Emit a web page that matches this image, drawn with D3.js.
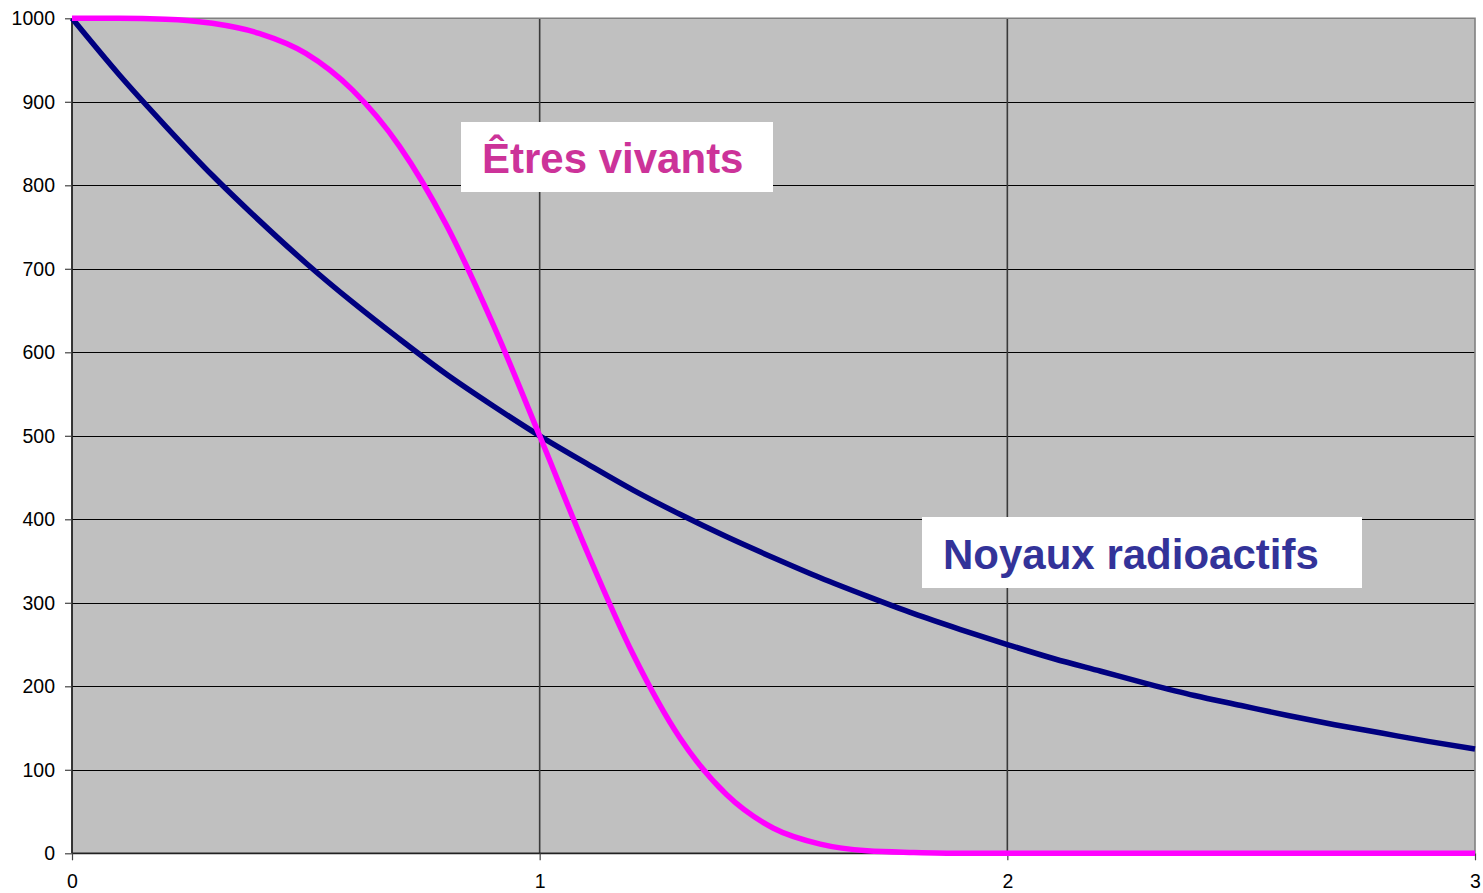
<!DOCTYPE html>
<html>
<head>
<meta charset="utf-8">
<script src="https://cdn.jsdelivr.net/npm/d3@7"></script>
<style>
  body { margin: 0; background: #fff; }
  svg text { font-family: "Liberation Sans", Arial, sans-serif; }
</style>
</head>
<body>
<svg id="chart" width="1483" height="893"></svg>
<script>
// time in half-lives, 0 .. 3 by 0.1
var temps = [0, 0.1, 0.2, 0.3, 0.4, 0.5, 0.6, 0.7, 0.8, 0.9, 1.0,
             1.1, 1.2, 1.3, 1.4, 1.5, 1.6, 1.7, 1.8, 1.9, 2.0,
             2.1, 2.2, 2.3, 2.4, 2.5, 2.6, 2.7, 2.8, 2.9, 3.0];
// radioactive nuclei (navy curve)
var noyaux = [1000, 933, 871, 812, 758, 707, 660, 616, 574, 536, 500,
              467, 435, 406, 379, 354, 330, 308, 287, 268, 250,
              233, 218, 203, 189, 177, 165, 154, 144, 134, 125];
// living beings (magenta curve)
var vivants = [1000, 1000, 999, 994, 982, 958, 914, 847, 753, 634, 500,
               363, 238, 138, 70, 30, 11, 3, 1, 0, 0,
               0, 0, 0, 0, 0, 0, 0, 0, 0, 0];
var xTicks = [0, 1, 2, 3];
var yTicks = [0, 100, 200, 300, 400, 500, 600, 700, 800, 900, 1000];

var svg = d3.select("#chart");
// plot area (window.top is reserved, so no "top" here)
var pLeft = 72, pRight = 1475, pTop = 18.3, pBottom = 853.3;

var x = d3.scaleLinear().domain([0, 3]).range([pLeft, pRight]);
var y = d3.scaleLinear().domain([0, 1000]).range([pBottom, pTop]);

// plot background
svg.append("rect")
    .attr("x", pLeft).attr("y", pTop)
    .attr("width", pRight - pLeft).attr("height", pBottom - pTop)
    .attr("fill", "#c0c0c0");

// horizontal grid
svg.append("g").selectAll("line")
    .data(yTicks.filter(function (d) { return d > 0 && d < 1000; }))
    .enter().append("line")
    .attr("x1", pLeft).attr("x2", pRight)
    .attr("y1", function (d) { return Math.round(y(d)) + 0.5; })
    .attr("y2", function (d) { return Math.round(y(d)) + 0.5; })
    .attr("stroke", "#000").attr("stroke-width", 1);

// vertical grid
svg.append("g").selectAll("line")
    .data(xTicks.filter(function (d) { return d > 0 && d < 3; }))
    .enter().append("line")
    .attr("x1", function (d) { return x(d); })
    .attr("x2", function (d) { return x(d); })
    .attr("y1", pTop).attr("y2", pBottom)
    .attr("stroke", "#3a3a3a").attr("stroke-width", 1.6);

// frame: top and right gray
svg.append("path")
    .attr("d", "M" + pLeft + "," + pTop + "H" + pRight + "V" + pBottom)
    .attr("fill", "none").attr("stroke", "#808080").attr("stroke-width", 1.6);

// axes
var yAxis = d3.axisLeft(y).tickValues(yTicks).tickSize(7).tickPadding(10)
    .tickFormat(d3.format("d"));
var xAxis = d3.axisBottom(x).tickValues(xTicks).tickSize(7).tickPadding(14)
    .tickFormat(d3.format("d"));

var gy = svg.append("g").attr("transform", "translate(" + pLeft + ",0)").call(yAxis);
var gx = svg.append("g").attr("transform", "translate(0," + pBottom + ")").call(xAxis);

[gy, gx].forEach(function (g) {
    g.attr("font-size", null);
    g.select(".domain").attr("stroke", "#222").attr("stroke-width", 1.8);
    g.selectAll(".tick line").attr("stroke", "#444").attr("stroke-width", 1.2);
    g.selectAll(".tick text")
        .attr("fill", "#000")
        .style("font-size", "19.5px")
        .style("font-family", "'Liberation Sans', Arial, sans-serif");
});
gx.select(".domain").attr("d", "M" + pLeft + ",0H" + pRight);
gy.select(".domain").attr("d", "M0," + pBottom + "V" + pTop);

// curves (smoothed like the spreadsheet lines)
var line = d3.line()
    .curve(d3.curveMonotoneX)
    .x(function (d) { return x(d[0]); })
    .y(function (d) { return y(d[1]); });

svg.append("path")
    .datum(d3.zip(temps, noyaux))
    .attr("d", line)
    .attr("fill", "none")
    .attr("stroke", "#000080")
    .attr("stroke-width", 5.5)
    .attr("stroke-linejoin", "round");

svg.append("path")
    .datum(d3.zip(temps, vivants))
    .attr("d", line)
    .attr("fill", "none")
    .attr("stroke", "#ff00ff")
    .attr("stroke-width", 5.5)
    .attr("stroke-linejoin", "round");

// labels in white boxes
var labels = [
    {t: "Êtres vivants", c: "#cc3399", bx: 461, by: 122, bw: 312, bh: 70, tx: 482, ty: 173},
    {t: "Noyaux radioactifs", c: "#333399", bx: 922, by: 517, bw: 440, bh: 71, tx: 943, ty: 569}
];
var lg = svg.append("g").selectAll("g").data(labels).enter().append("g");
lg.append("rect")
    .attr("x", function (d) { return d.bx; })
    .attr("y", function (d) { return d.by; })
    .attr("width", function (d) { return d.bw; })
    .attr("height", function (d) { return d.bh; })
    .attr("fill", "#fff");
lg.append("text")
    .attr("x", function (d) { return d.tx; })
    .attr("y", function (d) { return d.ty; })
    .attr("fill", function (d) { return d.c; })
    .style("font-size", "42px")
    .style("font-weight", "bold")
    .text(function (d) { return d.t; });
</script>
</body>
</html>
